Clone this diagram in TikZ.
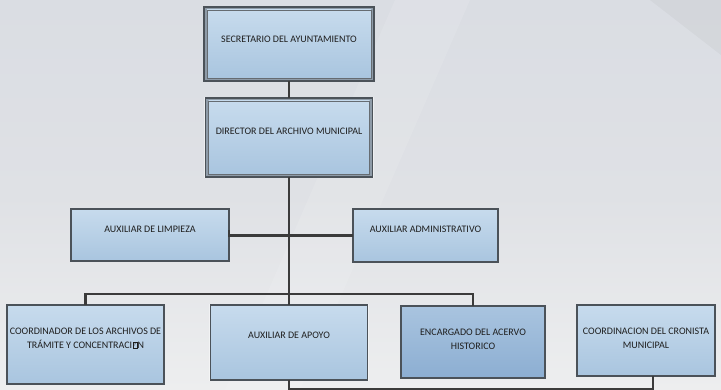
\documentclass[tikz,border=0pt]{standalone}
\usepackage{fontspec}
\setmainfont{Carlito}
\usetikzlibrary{calc}

\definecolor{bgtop}{HTML}{DADDE3}
\definecolor{bgmid}{HTML}{DFE1E5}
\definecolor{bgbot}{HTML}{EDEEEF}
\definecolor{boxtop}{HTML}{C7DBED}
\definecolor{boxbot}{HTML}{A9C5DF}
\definecolor{deeptop}{HTML}{A9C4DF}
\definecolor{deepbot}{HTML}{8CAED2}
\definecolor{boxline}{HTML}{4B5259}
\definecolor{frameband}{HTML}{8E9BA8}
\definecolor{wire}{HTML}{3B3B3B}
\definecolor{ink}{HTML}{1E1E1E}

% placeholder glyph for a character the source font could not show
\newcommand{\nochar}{\hbox{\kern0.3pt\vrule width 0.45pt\vbox{\hrule height 0.45pt\vbox to 5.6pt{\vss\hbox to 3.8pt{\hss\fontsize{4.6}{5}\selectfont ?\hss}\vss}\hrule height 0.45pt}\vrule width 0.45pt\kern0.3pt}}

\begin{document}
\begin{tikzpicture}[x=1pt,y=-1pt,
  sized/.style 2 args={minimum width=#1, minimum height=#2, inner sep=0pt, outer sep=0pt},
  halo/.style={preaction={draw=white, line width=2.6pt, opacity=0.45}},
  plainbox/.style={draw=boxline, line width=1.1pt, top color=boxtop, bottom color=boxbot, halo},
  deepbox/.style={draw=boxline, line width=1.1pt, top color=deeptop, bottom color=deepbot, halo},
  frameouter/.style={draw=boxline, line width=1.1pt, fill=frameband, halo},
  frameinner/.style={draw=boxline!85, line width=0.7pt, top color=boxtop, bottom color=boxbot},
  lbl/.style={text=ink, align=center, inner sep=0pt, font=\fontsize{10}{13.8}\selectfont},
  wireline/.style={draw=wire, line width=2.8pt}
]
\useasboundingbox (0,0) rectangle (721,390);

% backdrop
\shade[top color=bgtop, bottom color=bgbot, middle color=bgmid] (0,0) rectangle (721,390);
\fill[white, opacity=0.11] (225,390) -- (300,390) -- (470,0) -- (395,0) -- cycle;
\fill[black, opacity=0.03] (650,0) -- (721,0) -- (721,55) -- cycle;

% boxes with a double frame
\node[frameouter, sized={170pt}{74pt}] (sec) at (289,44) {};
\node[frameinner, sized={164pt}{68pt}] (secin) at (sec.center) {};
\node[frameouter, sized={167pt}{79pt}] (dir) at (289,137.5) {};
\node[frameinner, sized={161pt}{73pt}] (dirin) at (dir.center) {};

% single-frame boxes
\node[plainbox, sized={158pt}{52pt}] (limp) at (150,235) {};
\node[plainbox, sized={145pt}{53pt}] (adm) at (425.5,235.5) {};
\node[plainbox, sized={157pt}{79pt}] (coord) at (85.5,344.5) {};
\node[plainbox, sized={157pt}{75pt}] (apoyo) at (289,342.5) {};
\node[deepbox, sized={144pt}{72pt}] (enc) at (473,342) {};
\node[plainbox, sized={138pt}{71pt}] (cron) at (646,340.5) {};

% captions
\node[lbl] (tsec) at (289,39.5) {SECRETARIO DEL AYUNTAMIENTO};
\node[lbl] (tdir) at (289,131.5) {DIRECTOR DEL ARCHIVO MUNICIPAL};
\node[lbl] (tlimp) at (150,229) {AUXILIAR DE LIMPIEZA};
\node[lbl] (tadm) at (425.5,229.5) {AUXILIAR ADMINISTRATIVO};
\node[lbl] (tcoord) at (85.5,338.5) {COORDINADOR DE LOS ARCHIVOS DE\\TR\'AMITE Y CONCENTRACI\nochar N};
\node[lbl] (tapoyo) at (289,335.5) {AUXILIAR DE APOYO};
\node[lbl] (tenc) at (473,339) {ENCARGADO DEL ACERVO\\HISTORICO};
\node[lbl] (tcron) at (646,338.5) {COORDINACION DEL CRONISTA\\MUNICIPAL};

% connectors
\draw[wireline] (sec.south) -- (sec.south |- dir.north);
\draw[wireline] (dir.south) -- (apoyo.north);
\draw[wireline] ($(limp.east)+(0,-5)$) |- (adm.west);
\draw[wireline] (coord.north) |- ($(apoyo.north)+(0,-11)$) -| (enc.north);
\coordinate (cronfoot) at ($(cron.south)+(7,0)$);
\draw[wireline] (apoyo.south) -- ++(0,9) -| (cronfoot);
\end{tikzpicture}
\end{document}
